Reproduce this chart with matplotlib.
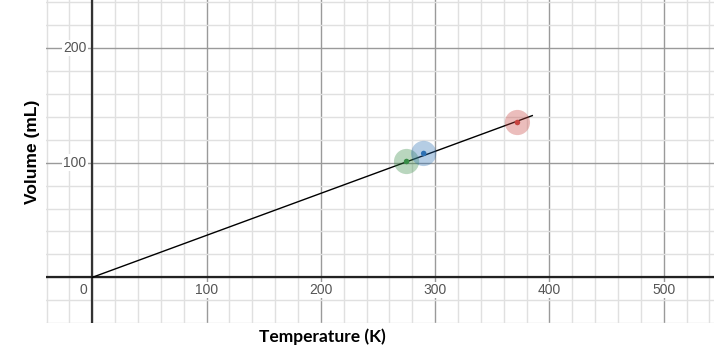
import matplotlib
matplotlib.use("Agg")
import matplotlib.pyplot as plt
import numpy as np

# Data
temps = [275, 290, 372]          # K
volumes = [101, 108, 135]        # mL
point_colors = ["#388c46", "#2d70b3", "#c74440"]
fit_x = [0, 385]
fit_y = [0, 141]
x_ticks = [0, 100, 200, 300, 400, 500]
y_ticks = [100, 200]

fig = plt.figure(figsize=(7.14, 3.55), dpi=100)
ax = fig.add_axes([46/714, 32/355, (714-46)/714, 323/355])
xmin, xmax = -40.5, 544
ymin, ymax = -39.8, 241.8
ax.set_xlim(xmin, xmax)
ax.set_ylim(ymin, ymax)
for s in ax.spines.values():
    s.set_visible(False)
ax.set_xticks([]); ax.set_yticks([])

# grid
for gx in np.arange(-40, 545, 20):
    major = gx % 100 == 0
    ax.axvline(gx, color="#9a9a9a" if major else "#e0e0e0", lw=1.0, zorder=0)
for gy in np.arange(-40, 242, 20):
    major = gy % 100 == 0
    ax.axhline(gy, color="#9a9a9a" if major else "#e0e0e0", lw=1.0, zorder=0)
ax.axvline(0, color="#333333", lw=1.6, zorder=1)
ax.axhline(0, color="#222222", lw=1.6, zorder=1)

# tick labels
for t in x_ticks:
    if t == 0:
        ax.text(-8, -11, "0", ha="center", va="center", fontsize=10, color="#555555",
                family="Liberation Sans", zorder=3)
    else:
        ax.text(t, -11, str(t), ha="center", va="center", fontsize=10, color="#555555",
                family="Liberation Sans", zorder=3,
                bbox=dict(boxstyle="square,pad=0.1", fc="white", ec="none"))
for t in y_ticks:
    ax.text(-5, t, str(t), ha="right", va="center", fontsize=10, color="#555555",
            family="Liberation Sans", zorder=3,
            bbox=dict(boxstyle="square,pad=0.1", fc="white", ec="none"))

# fit line
ax.plot(fit_x, fit_y, color="black", lw=1.0, zorder=4)

# points
for x, y, c in zip(temps, volumes, point_colors):
    ax.scatter([x], [y], s=330, color=c, alpha=0.35, edgecolors="none", zorder=5)
    ax.scatter([x], [y], s=16, color=c, edgecolors="none", zorder=6)

fig.text(32/714, 1 - 152/355, "Volume (mL)", rotation=90, ha="center", va="center",
         fontsize=12.5, fontweight="bold", family="Liberation Sans")
fig.text(322/714, 1 - 337/355, "Temperature (K)", ha="center", va="center",
         fontsize=12.5, fontweight="bold", family="Lato")

fig.savefig("out.png", dpi=100)
